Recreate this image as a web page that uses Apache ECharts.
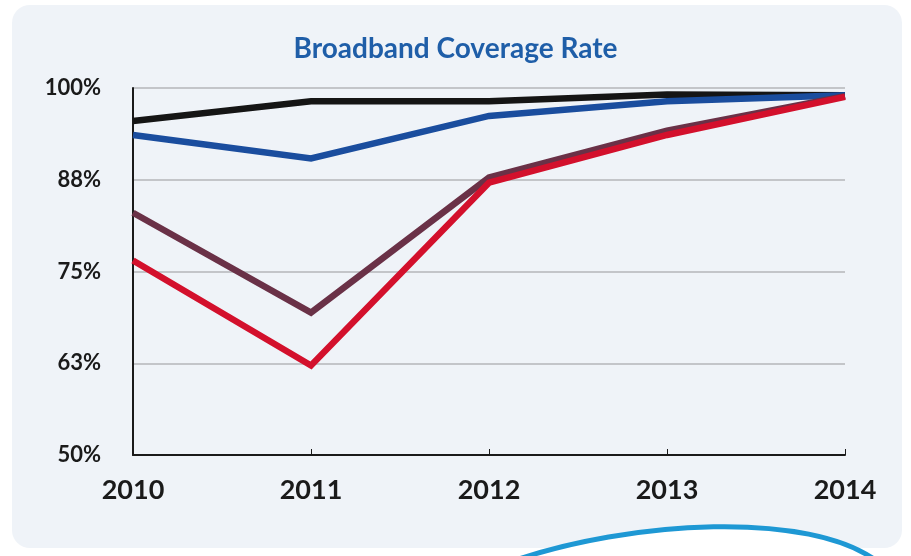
<!DOCTYPE html>
<html>
<head>
<meta charset="utf-8">
<script src="https://cdn.jsdelivr.net/npm/echarts@6/dist/echarts.min.js"></script>
<style>
  html, body { margin: 0; padding: 0; background: #ffffff; }
  #chart { width: 911px; height: 556px; }
</style>
</head>
<body>
<div id="chart"></div>
<script>
var years = ['2010', '2011', '2012', '2013', '2014']
var yTicks = [50, 62.5, 75, 87.5, 100]
var blackLine = [95.5, 98.2, 98.2, 99.1, 99.0]
var blueLine = [93.6, 90.4, 96.2, 98.2, 99.0]
var purpleLine = [83.0, 69.4, 87.8, 94.2, 98.9]
var redLine = [76.5, 62.2, 87.1, 93.6, 98.8]

var labelFont = 'Lato, "Open Sans", sans-serif'

function makeLine(name, data, color) {
    return {
        name: name,
        type: 'line',
        data: data,
        symbol: 'none',
        lineStyle: {
            color: color,
            width: 6.5,
            join: 'miter'
        },
        itemStyle: { color: color }
    }
}

var option = {
    backgroundColor: '#ffffff',
    animation: false,
    graphic: [
        {
            type: 'rect',
            z: -10,
            shape: { x: 12, y: 5, width: 890, height: 543, r: 18 },
            style: { fill: '#eff3f8' }
        },
        {
            type: 'bezierCurve',
            z: -5,
            shape: { x1: 510, y1: 562, cpx1: 630, cpy1: 520, cpx2: 810, cpy2: 510, x2: 878, y2: 562 },
            style: { fill: '#ffffff', stroke: '#1e98d4', lineWidth: 5 }
        }
    ],
    title: {
        text: 'Broadband Coverage Rate',
        left: 'center',
        top: 30,
        textStyle: {
            color: '#1f5ea8',
            fontSize: 28,
            fontWeight: 'bold',
            fontFamily: labelFont
        }
    },
    grid: {
        left: 133,
        right: 66,
        top: 88,
        bottom: 101
    },
    xAxis: {
        type: 'category',
        data: years,
        boundaryGap: false,
        axisLine: { lineStyle: { color: '#1a1a1a', width: 2 } },
        axisTick: { inside: true, length: 6, lineStyle: { color: '#1a1a1a' } },
        axisLabel: {
            color: '#1a1a1a',
            fontSize: 27,
            fontWeight: 'bold',
            fontFamily: labelFont,
            margin: 22
        }
    },
    yAxis: {
        type: 'value',
        min: yTicks[0],
        max: yTicks[yTicks.length - 1],
        interval: yTicks[1] - yTicks[0],
        axisLine: { show: true, lineStyle: { color: '#1a1a1a', width: 2 } },
        axisTick: { show: false },
        splitLine: { lineStyle: { color: '#b4b6ba', width: 1.5 } },
        axisLabel: {
            color: '#1a1a1a',
            fontSize: 22,
            fontWeight: 'bold',
            fontFamily: labelFont,
            margin: 32,
            formatter: function (v) { return Math.round(v) + '%' }
        }
    },
    series: [
        makeLine('Series 1', blackLine, '#151515'),
        makeLine('Series 2', blueLine, '#1a4d9e'),
        makeLine('Series 3', purpleLine, '#6a3147'),
        makeLine('Series 4', redLine, '#d3102c')
    ]
}

var chart = echarts.init(document.getElementById('chart'))
chart.setOption(option)
</script>
</body>
</html>
